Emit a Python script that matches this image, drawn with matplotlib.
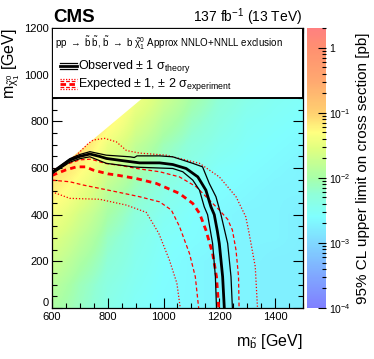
import numpy as np
import matplotlib.pyplot as plt
from matplotlib.colors import LinearSegmentedColormap, LogNorm
from matplotlib.patches import Polygon, Rectangle
import matplotlib.ticker as mticker

plt.rcParams["font.family"] = ["Liberation Sans", "DejaVu Sans"]
plt.rcParams["mathtext.fontset"] = "custom"
plt.rcParams["mathtext.rm"] = "Liberation Sans"
plt.rcParams["mathtext.it"] = "Liberation Sans"
plt.rcParams["mathtext.bf"] = "Liberation Sans:bold"

# upper limit map, log10(sigma / pb), rows = m_chi, cols = m_sbottom
grid_msb = [600, 700, 800, 900, 1000, 1100, 1200, 1300, 1400, 1500]
grid_mchi = [0, 100, 200, 300, 400, 500, 600, 700, 800, 900]
limit_log10 = [
    [-1.95, -2.15, -2.40, -2.55, -2.62, -2.65, -2.70, -2.70, -2.75, -2.75],
    [-1.85, -2.10, -2.35, -2.50, -2.60, -2.65, -2.70, -2.70, -2.75, -2.75],
    [-1.70, -1.95, -2.25, -2.45, -2.58, -2.65, -2.70, -2.70, -2.75, -2.75],
    [-1.55, -1.80, -2.15, -2.40, -2.55, -2.60, -2.65, -2.70, -2.70, -2.75],
    [-1.38, -1.65, -2.00, -2.30, -2.48, -2.58, -2.65, -2.70, -2.70, -2.75],
    [-1.20, -1.45, -1.85, -2.15, -2.38, -2.52, -2.60, -2.65, -2.70, -2.70],
    [-1.05, -1.25, -1.65, -1.98, -2.25, -2.42, -2.55, -2.60, -2.65, -2.70],
    [-0.90, -1.08, -1.45, -1.78, -2.08, -2.30, -2.45, -2.55, -2.60, -2.65],
    [-0.80, -0.95, -1.22, -1.58, -1.88, -2.15, -2.35, -2.50, -2.55, -2.60],
    [-0.70, -0.85, -1.08, -1.40, -1.70, -2.00, -2.25, -2.40, -2.50, -2.55],
]
# kinematic edge of the scanned region
diag_msb = [600, 1500]
diag_mchi = [575, 1475]

# observed contour and +-1 sigma theory
obs_x = [600, 630, 664, 700, 736, 770, 795, 850, 914, 986, 1033, 1081, 1123, 1152, 1170, 1182, 1193, 1200, 1212, 1218]
obs_y = [580, 605, 634, 650, 660, 650, 641, 632, 622, 622, 615, 598, 562, 505, 434, 400, 330, 277, 134, 0]
obs_up_x = [600, 664, 700, 736, 795, 880, 895, 905, 986, 1033, 1105, 1140, 1164, 1188, 1206, 1230, 1242, 1247]
obs_up_y = [585, 640, 658, 670, 655, 648, 645, 652, 652, 648, 620, 605, 534, 477, 400, 277, 134, 0]
obs_dn_x = [600, 664, 700, 736, 795, 890, 914, 1033, 1069, 1105, 1129, 1146, 1158, 1176, 1186, 1190]
obs_dn_y = [575, 625, 640, 648, 620, 605, 603, 598, 584, 548, 505, 434, 400, 277, 134, 0]

# expected contour, +-1 and +-2 sigma experiment
exp_x = [600, 650, 688, 720, 748, 800, 831, 902, 974, 1057, 1105, 1129, 1152, 1176, 1190, 1198]
exp_y = [568, 592, 605, 605, 591, 575, 570, 555, 534, 491, 448, 406, 334, 234, 134, 0]
exp_p1_x = [600, 650, 700, 740, 790, 850, 914, 986, 1057, 1117, 1165, 1200, 1230, 1247, 1260, 1269, 1271]
exp_p1_y = [585, 615, 635, 638, 620, 610, 596, 584, 562, 520, 462, 420, 380, 334, 248, 134, 0]
exp_m1_x = [600, 664, 712, 831, 914, 986, 1028, 1057, 1093, 1114, 1126]
exp_m1_y = [548, 541, 527, 498, 477, 455, 420, 350, 234, 134, 0]
exp_p2_x = [600, 629, 688, 730, 748, 789, 831, 867, 914, 1010, 1033, 1129, 1200, 1260, 1295, 1307, 1329, 1337]
exp_p2_y = [590, 605, 655, 705, 720, 727, 712, 675, 664, 655, 648, 620, 562, 477, 391, 320, 177, 0]
exp_m2_x = [600, 664, 771, 867, 938, 983, 1021, 1048, 1060]
exp_m2_y = [498, 470, 466, 441, 410, 320, 206, 106, 0]

palette = ["#8080ff", "#80a8ff", "#80d8ff", "#80ffff", "#90ffd8", "#a8ffa8",
           "#e0ff80", "#ffff80", "#ffd070", "#ffa870", "#ff9070", "#ff8080"]
palette_at = [-4.0, -3.5, -3.0, -2.6, -2.25, -2.0, -1.55, -1.3, -1.0, -0.5, 0.0, 0.3]
cmap = LinearSegmentedColormap.from_list(
    "roothm", [((v + 4.0) / 4.3, c) for v, c in zip(palette_at, palette)])
norm = LogNorm(vmin=1e-4, vmax=2.0)

fig = plt.figure(figsize=(3.74, 3.59), dpi=100)
ax = fig.add_axes([0.139, 0.142, 0.671, 0.780])
cax = fig.add_axes([0.821, 0.142, 0.051, 0.780])

limits = 10.0 ** np.array(limit_log10)
step_x = grid_msb[1] - grid_msb[0]
step_y = grid_mchi[1] - grid_mchi[0]
im = ax.imshow(limits, origin="lower", cmap=cmap, norm=norm, aspect="auto",
               interpolation="bilinear",
               extent=[grid_msb[0] - step_x / 2, grid_msb[-1] + step_x / 2,
                       grid_mchi[0] - step_y / 2, grid_mchi[-1] + step_y / 2])
allowed = Polygon([(diag_msb[0], 0), (diag_msb[0], diag_mchi[0]),
                   (diag_msb[1], diag_mchi[1]), (diag_msb[1], 0)],
                  transform=ax.transData, closed=True)
im.set_clip_path(allowed)

ax.plot(exp_p2_x, exp_p2_y, color="red", lw=0.9, ls=(0, (1, 1.5)))
ax.plot(exp_m2_x, exp_m2_y, color="red", lw=0.9, ls=(0, (1, 1.5)))
ax.plot(exp_p1_x, exp_p1_y, color="red", lw=0.9, ls=(0, (3, 2)))
ax.plot(exp_m1_x, exp_m1_y, color="red", lw=0.9, ls=(0, (3, 2)))
ax.plot(exp_x, exp_y, color="red", lw=2.0, ls=(0, (2, 1.5)))
ax.plot(obs_up_x, obs_up_y, color="black", lw=0.9)
ax.plot(obs_dn_x, obs_dn_y, color="black", lw=0.9)
ax.plot(obs_x, obs_y, color="black", lw=2.0)

ax.set_xlim(600, 1500)
ax.set_ylim(0, 1200)
ax.xaxis.set_major_locator(mticker.MultipleLocator(200))
ax.xaxis.set_minor_locator(mticker.MultipleLocator(50))
ax.yaxis.set_major_locator(mticker.MultipleLocator(200))
ax.yaxis.set_minor_locator(mticker.MultipleLocator(50))
ax.tick_params(which="both", direction="in", right=True, top=True, labelsize=8)
ax.tick_params(axis="x", pad=3)
ax.tick_params(axis="y", pad=2)
ax.tick_params(which="major", length=7, width=0.8)
ax.tick_params(which="minor", length=3.5, width=0.8)
for sp in ax.spines.values():
    sp.set_linewidth(0.9)
ax.set_xlabel(r"m$_{\tilde{\mathrm{b}}}$ [GeV]", fontsize=11.5, loc="right", labelpad=7)
ax.set_ylabel(r"m$_{\tilde{\chi}^{0}_{1}}$ [GeV]", fontsize=11.5, loc="top", labelpad=2)

# lift the "0" of the y axis so it sits above the corner like ROOT does
fig.canvas.draw()
for tick in ax.yaxis.get_major_ticks():
    if abs(tick.get_loc()) < 1e-6:
        tick.label1.set_verticalalignment("bottom")

# legend panel
ax.add_patch(Rectangle((0, 0.75), 1, 0.25, transform=ax.transAxes, facecolor="white",
                       edgecolor="black", lw=1.4, zorder=5))
ax.text(0.012, 0.946,
        r"pp $\rightarrow$ $\tilde{\mathrm{b}}\;\tilde{\mathrm{b}}$, $\tilde{\mathrm{b}}$ $\rightarrow$ b $\tilde{\chi}^{0}_{1}$ Approx NNLO+NNLL exclusion",
        transform=ax.transAxes, fontsize=7.0, va="center", ha="left", zorder=6)
for dy, lw in [(0.012, 0.9), (0.0, 2.0), (-0.012, 0.9)]:
    ax.plot([0.03, 0.10], [0.864 + dy] * 2, transform=ax.transAxes, color="black",
            lw=lw, zorder=6, clip_on=False)
ax.text(0.104, 0.864, r"Observed $\pm$ 1 $\sigma_{\mathrm{theory}}$", transform=ax.transAxes,
        fontsize=9, va="center", ha="left", zorder=6)
for dy, lw, ls in [(0.018, 0.9, (0, (1, 1.2))), (0.009, 0.9, (0, (3, 1.5))), (0.0, 2.0, (0, (2, 1.2))),
                   (-0.009, 0.9, (0, (3, 1.5))), (-0.018, 0.9, (0, (1, 1.2)))]:
    ax.plot([0.03, 0.10], [0.80 + dy] * 2, transform=ax.transAxes, color="red",
            lw=lw, ls=ls, zorder=6, clip_on=False)
ax.text(0.104, 0.80, r"Expected $\pm$ 1, $\pm$ 2 $\sigma_{\mathrm{experiment}}$", transform=ax.transAxes,
        fontsize=9, va="center", ha="left", zorder=6)

fig.text(0.142, 0.94, "CMS", fontsize=13.5, fontweight="bold", ha="left", va="baseline")
fig.text(0.808, 0.94, r"137 fb$^{-1}$ (13 TeV)", fontsize=10, ha="right", va="baseline")

cb = fig.colorbar(im, cax=cax)
cb.outline.set_visible(False)
cb.set_ticks([1e-4, 1e-3, 1e-2, 1e-1, 1])
cb.set_ticklabels([r"10$^{-4}$", r"10$^{-3}$", r"10$^{-2}$", r"10$^{-1}$", "1"])
cax.yaxis.set_minor_locator(mticker.LogLocator(base=10, subs=np.arange(2, 10)))
cax.tick_params(which="both", direction="in", labelsize=7.5, pad=2)
cax.tick_params(which="major", length=6, width=0.8)
cax.tick_params(which="minor", length=3, width=0.8)
cb.set_label("95% CL upper limit on cross section [pb]", fontsize=11, labelpad=4)

fig.savefig("out.png", dpi=100)
